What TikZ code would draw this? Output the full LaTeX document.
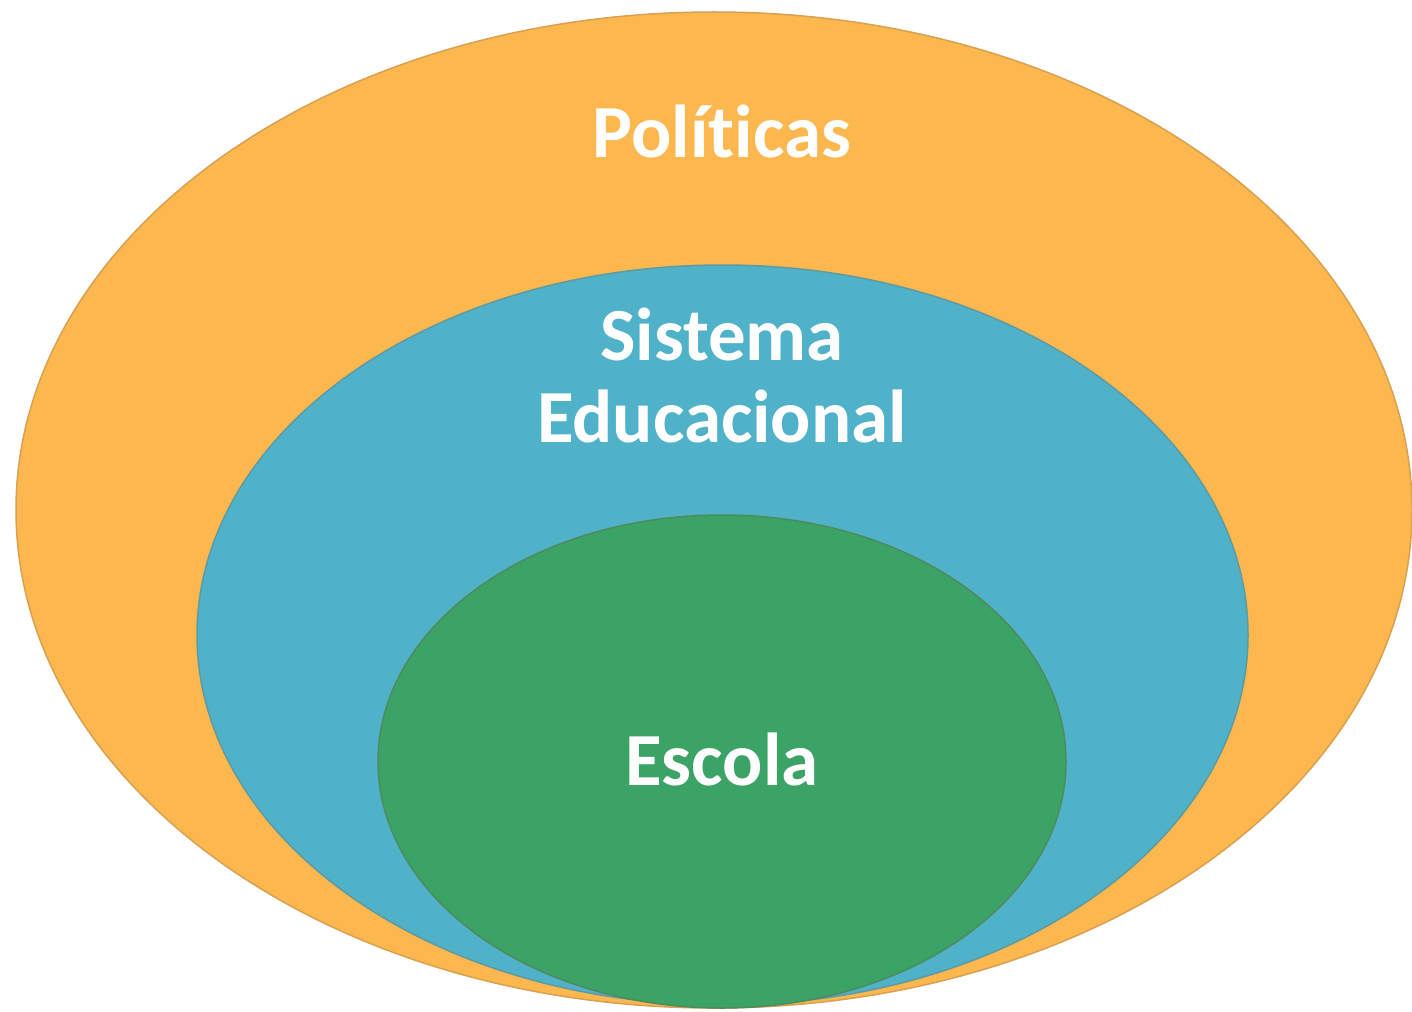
\documentclass[tikz,border=0pt]{standalone}
\usepackage{fontspec}
\setmainfont[Ligatures=CommonOff]{Carlito}
\definecolor{orangefill}{HTML}{FDB74F}
\definecolor{orangeedge}{HTML}{D9A050}
\definecolor{bluefill}{HTML}{4FB2C9}
\definecolor{blueedge}{HTML}{5E9AA0}
\definecolor{greenfill}{HTML}{3CA366}
\definecolor{greenedge}{HTML}{4E8A5E}
\begin{document}
\begin{tikzpicture}[x=1pt,y=-1pt,
  ring/.style={line width=1.5pt},
  lbl/.style={text=white,font=\fontsize{75}{82}\selectfont\bfseries,anchor=base,inner sep=0pt}]
\useasboundingbox (0,0) rectangle (1412,1011);
\fill[white] (0,0) rectangle (1412,1011);
\filldraw[ring,fill=orangefill,draw=orangeedge] (714,510) ellipse [x radius=698,y radius=498];
\filldraw[ring,fill=bluefill,draw=blueedge] (722.5,635) ellipse [x radius=525.5,y radius=370];
\filldraw[ring,fill=greenfill,draw=greenedge] (722,761.5) ellipse [x radius=344,y radius=246.5];
\node[lbl] (pol) at (722,158) {Políticas};
\node[lbl] (sis) at (722,360) {Sistema};
\node[lbl] (edu) at (722,442) {Educacional};
\node[lbl] (esc) at (722,785) {Escola};
\end{tikzpicture}
\end{document}
